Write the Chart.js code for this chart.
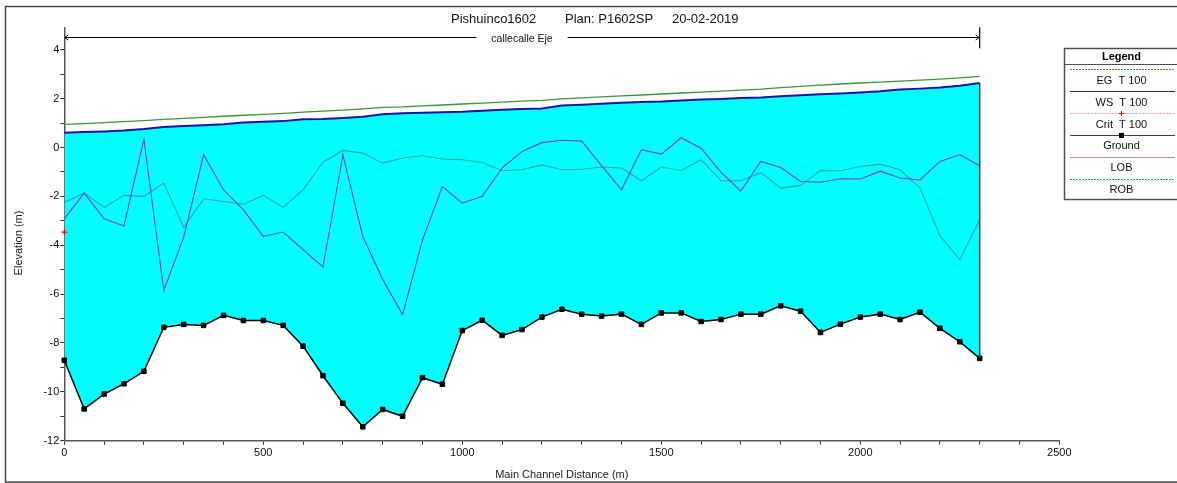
<!DOCTYPE html>
<html>
<head>
<meta charset="utf-8">
<script src="https://cdn.jsdelivr.net/npm/chart.js@4.4.1/dist/chart.umd.min.js"></script>
<style>
  html, body { margin: 0; padding: 0; background: #fff; }
  canvas { display: block; }
</style>
</head>
<body>
<canvas id="profile" width="1177" height="483"></canvas>
<script>
// Main channel stations (m)
const stations = [0, 50, 100, 150, 200, 250, 300, 350, 400, 450, 500, 550, 600, 650, 700, 750,
  800, 850, 900, 950, 1000, 1050, 1100, 1150, 1200, 1250, 1300, 1350, 1400, 1450, 1500, 1550,
  1600, 1650, 1700, 1750, 1800, 1850, 1900, 1950, 2000, 2050, 2100, 2150, 2200, 2250, 2300];

// Energy grade, T 100 (m)
const egT100 = [0.95, 0.98, 1.02, 1.06, 1.10, 1.15, 1.19, 1.23, 1.28, 1.32, 1.36, 1.40, 1.45, 1.49,
  1.53, 1.58, 1.64, 1.66, 1.70, 1.74, 1.78, 1.82, 1.86, 1.90, 1.93, 1.99, 2.03, 2.07, 2.11, 2.15,
  2.19, 2.23, 2.27, 2.31, 2.35, 2.39, 2.45, 2.50, 2.55, 2.60, 2.64, 2.68, 2.72, 2.76, 2.80, 2.85, 2.91];

// Water surface, T 100 (m)
const wsT100 = [0.60, 0.63, 0.66, 0.70, 0.76, 0.84, 0.88, 0.91, 0.95, 1.02, 1.05, 1.08, 1.16, 1.17,
  1.21, 1.26, 1.36, 1.40, 1.42, 1.44, 1.46, 1.50, 1.55, 1.58, 1.60, 1.72, 1.75, 1.79, 1.83, 1.86,
  1.88, 1.92, 1.96, 1.99, 2.03, 2.05, 2.10, 2.14, 2.18, 2.21, 2.25, 2.30, 2.37, 2.41, 2.46, 2.53, 2.64];

// Critical depth elevation, T 100 (only computed at the first station)
const critStations = [0];
const critT100 = [-3.46];

// Channel bed (m)
const ground = [-8.71, -10.70, -10.09, -9.67, -9.16, -7.36, -7.24, -7.28, -6.87, -7.08, -7.08, -7.28,
  -8.13, -9.34, -10.47, -11.43, -10.72, -11.00, -9.42, -9.69, -7.49, -7.07, -7.69, -7.45, -6.94,
  -6.62, -6.82, -6.90, -6.82, -7.24, -6.77, -6.77, -7.12, -7.04, -6.82, -6.82, -6.48, -6.70, -7.57,
  -7.23, -6.94, -6.82, -7.04, -6.74, -7.40, -7.95, -8.63];

// Left overbank (m)
const lob = [-2.92, -1.87, -2.92, -3.21, 0.34, -5.85, -3.67, -0.30, -1.73, -2.55, -3.64, -3.46, -4.18,
  -4.89, -0.30, -3.64, -5.40, -6.84, -3.78, -1.60, -2.28, -2.00, -0.84, -0.16, 0.20, 0.30, 0.26,
  -0.74, -1.73, -0.09, -0.27, 0.40, -0.03, -1.02, -1.78, -0.57, -0.82, -1.39, -1.42, -1.28, -1.29,
  -0.97, -1.25, -1.33, -0.57, -0.30, -0.75];

// Right overbank (m)
const rob = [-2.25, -1.87, -2.45, -1.96, -2.00, -1.46, -3.27, -2.10, -2.21, -2.32, -1.96, -2.45, -1.73,
  -0.60, -0.12, -0.23, -0.64, -0.43, -0.33, -0.47, -0.50, -0.61, -0.95, -0.91, -0.71, -0.91, -0.89,
  -0.80, -0.84, -1.36, -0.80, -0.94, -0.50, -1.36, -1.36, -1.03, -1.66, -1.55, -0.94, -0.95, -0.78,
  -0.68, -0.91, -1.66, -3.61, -4.59, -2.96];

// Reach label drawn above the profile
const reachName = 'callecalle Eje';
const reachLabelElevation = 4.52;

const titleParts = ['Pishuinco1602', 'Plan: P1602SP', '20-02-2019'];
const xAxisTitle = 'Main Channel Distance (m)';
const yAxisTitle = 'Elevation (m)';

const legendItems = [
  { label: 'EG  T 100', color: '#3c9a3c', dash: [2, 1], marker: null },
  { label: 'WS  T 100', color: '#2020e0', dash: [], marker: null },
  { label: 'Crit  T 100', color: '#ff9a9a', dash: [2, 1], marker: 'cross' },
  { label: 'Ground', color: '#404040', dash: [], marker: 'square' },
  { label: 'LOB', color: '#c080c8', dash: [], marker: null },
  { label: 'ROB', color: '#2a9090', dash: [2, 1], marker: null }
];

const FONT = '"Liberation Sans", Arial, sans-serif';
const pts = (xs, ys) => xs.map((x, i) => ({ x, y: ys[i] }));

const decor = {
  id: 'decor',
  beforeDraw(chart) {
    const ctx = chart.ctx;
    ctx.save();
    ctx.fillStyle = '#fff';
    ctx.fillRect(0, 0, chart.width, chart.height);
    ctx.restore();
  },
  afterDatasetsDraw(chart) {
    // closing edge of the water area at the last station
    const ctx = chart.ctx;
    const xs = chart.scales.x, ys = chart.scales.y;
    const last = stations.length - 1;
    const px = xs.getPixelForValue(stations[last]);
    ctx.save();
    ctx.strokeStyle = '#1e3c3c';
    ctx.lineWidth = 1.5;
    ctx.beginPath();
    ctx.moveTo(px, ys.getPixelForValue(wsT100[last]));
    ctx.lineTo(px, ys.getPixelForValue(ground[last]));
    ctx.stroke();
    ctx.restore();
  },
  afterDraw(chart) {
    const ctx = chart.ctx;
    const xs = chart.scales.x, ys = chart.scales.y;
    const area = chart.chartArea;
    ctx.save();

    // outer frame
    ctx.strokeStyle = '#444';
    ctx.lineWidth = 1.5;
    ctx.strokeRect(5.5, 6.5, 1200, 475.5);

    // title
    ctx.fillStyle = '#111';
    ctx.font = '13px ' + FONT;
    ctx.textBaseline = 'middle';
    ctx.textAlign = 'left';
    ctx.fillText(titleParts[0], 451, 19.5);
    ctx.fillText(titleParts[1], 565, 19.5);
    ctx.fillText(titleParts[2], 672, 19.5);

    // reach extent arrow with its name
    const x0 = xs.getPixelForValue(stations[0]);
    const x1 = xs.getPixelForValue(stations[stations.length - 1]);
    const ya = Math.round(ys.getPixelForValue(reachLabelElevation)) + 0.5;
    const xm = (x0 + x1) / 2;
    ctx.font = '10.5px ' + FONT;
    ctx.textAlign = 'center';
    const tw = ctx.measureText(reachName).width;
    ctx.fillText(reachName, xm, ya + 2);
    ctx.strokeStyle = '#000';
    ctx.lineWidth = 1;
    ctx.beginPath();
    ctx.moveTo(x0, ya); ctx.lineTo(xm - tw / 2 - 15, ya);
    ctx.moveTo(xm + tw / 2 + 15, ya); ctx.lineTo(x1, ya);
    // arrow heads
    ctx.moveTo(x0 + 4, ya - 2.5); ctx.lineTo(x0 + 0.5, ya); ctx.lineTo(x0 + 4, ya + 2.5);
    ctx.moveTo(x1 - 4, ya - 2.5); ctx.lineTo(x1 - 0.5, ya); ctx.lineTo(x1 - 4, ya + 2.5);
    ctx.stroke();
    ctx.lineWidth = 1.2;
    ctx.beginPath();
    ctx.moveTo(x1, area.top); ctx.lineTo(x1, area.top + 21);
    ctx.stroke();

    // axis titles
    ctx.fillStyle = '#222';
    ctx.font = '11px ' + FONT;
    ctx.textAlign = 'center';
    ctx.textBaseline = 'middle';
    ctx.fillText(xAxisTitle, (area.left + area.right) / 2, 475);
    ctx.save();
    ctx.translate(18.5, 243);
    ctx.rotate(-Math.PI / 2);
    ctx.fillText(yAxisTitle, 0, 0);
    ctx.restore();

    // legend box
    const lx = 1064.5, ly = 48.5, lw = 120, lh = 151;
    const cx = 1121.5;
    ctx.fillStyle = '#fff';
    ctx.fillRect(lx, ly, lw, lh);
    ctx.strokeStyle = '#505050';
    ctx.lineWidth = 1.5;
    ctx.strokeRect(lx, ly, lw, lh);
    ctx.beginPath();
    ctx.moveTo(lx, 64.5); ctx.lineTo(lx + lw, 64.5);
    ctx.lineWidth = 1;
    ctx.stroke();
    ctx.fillStyle = '#000';
    ctx.font = 'bold 11px ' + FONT;
    ctx.fillText('Legend', cx, 56.5);
    ctx.font = '11px ' + FONT;
    legendItems.forEach((it, i) => {
      const lineY = 69.5 + i * 22;
      const textY = 81 + i * 21.8;
      ctx.strokeStyle = it.color;
      ctx.lineWidth = 1.2;
      ctx.setLineDash(it.dash);
      ctx.beginPath();
      ctx.moveTo(1070, lineY); ctx.lineTo(1175, lineY);
      ctx.stroke();
      ctx.setLineDash([]);
      if (it.marker === 'cross') {
        ctx.strokeStyle = '#ff0000';
        ctx.lineWidth = 1.2;
        ctx.beginPath();
        ctx.moveTo(cx - 2.5, lineY); ctx.lineTo(cx + 2.5, lineY);
        ctx.moveTo(cx, lineY - 2.5); ctx.lineTo(cx, lineY + 2.5);
        ctx.stroke();
      } else if (it.marker === 'square') {
        ctx.fillStyle = '#000';
        ctx.fillRect(cx - 2.5, lineY - 2.5, 5, 5);
      }
      ctx.fillStyle = '#111';
      ctx.fillText(it.label, cx, textY);
    });
    ctx.restore();
  }
};

new Chart(document.getElementById('profile'), {
  type: 'line',
  data: {
    datasets: [
      {
        label: 'EG  T 100', data: pts(stations, egT100),
        borderColor: '#3a963a', borderWidth: 1.3, pointRadius: 0, fill: false, order: 1
      },
      {
        label: 'WS  T 100', data: pts(stations, wsT100),
        borderColor: '#1414a8', borderWidth: 2, pointRadius: 0,
        fill: { target: 3 }, backgroundColor: '#00ffff', order: 2
      },
      {
        label: 'Crit  T 100', data: pts(critStations, critT100),
        borderColor: '#ff0000', borderWidth: 1.3, pointStyle: 'cross', pointRadius: 3,
        showLine: false, fill: false, clip: false, order: 0
      },
      {
        label: 'Ground', data: pts(stations, ground),
        borderColor: '#000', borderWidth: 1.5, pointStyle: 'rect', pointRadius: 3.2,
        pointBorderWidth: 1, pointBackgroundColor: '#000', pointBorderColor: '#000',
        fill: false, clip: false, order: 3
      },
      {
        label: 'LOB', data: pts(stations, lob),
        borderColor: '#7048c0', borderWidth: 1.1, pointRadius: 0, fill: false, order: 4
      },
      {
        label: 'ROB', data: pts(stations, rob),
        borderColor: '#2aa6aa', borderWidth: 1.1, pointRadius: 0, fill: false, order: 5
      }
    ]
  },
  options: {
    responsive: false,
    devicePixelRatio: 1,
    animation: false,
    events: [],
    elements: { line: { tension: 0 } },
    layout: { padding: { left: 0, right: 117.7, top: 27.3, bottom: 0 } },
    plugins: {
      legend: { display: false },
      title: { display: false },
      tooltip: { enabled: false },
      filler: { drawTime: 'beforeDatasetsDraw' }
    },
    scales: {
      x: {
        type: 'linear', min: 0, max: 2500,
        afterFit: (s) => { s.height = 42.3; },
        grid: { drawOnChartArea: false, drawTicks: true, tickLength: 4, color: '#333', lineWidth: 1 },
        border: { display: true, color: '#555', width: 1.5 },
        ticks: {
          stepSize: 100, autoSkip: false, maxRotation: 0, includeBounds: false, padding: 2,
          color: '#111', font: { family: FONT, size: 11 },
          callback: (v) => (v % 500 === 0 ? String(v) : '')
        }
      },
      y: {
        type: 'linear', min: -12, max: 4.92,
        afterFit: (s) => { s.width = 64.3; },
        grid: { drawOnChartArea: false, drawTicks: true, tickLength: 4, color: '#333', lineWidth: 1 },
        border: { display: true, color: '#555', width: 1.5 },
        ticks: {
          stepSize: 1, autoSkip: false, includeBounds: false, padding: 1,
          color: '#111', font: { family: FONT, size: 11 },
          callback: (v) => (Math.abs(v % 2) < 1e-9 ? String(v) : '')
        }
      }
    }
  },
  plugins: [decor]
});
</script>
</body>
</html>
